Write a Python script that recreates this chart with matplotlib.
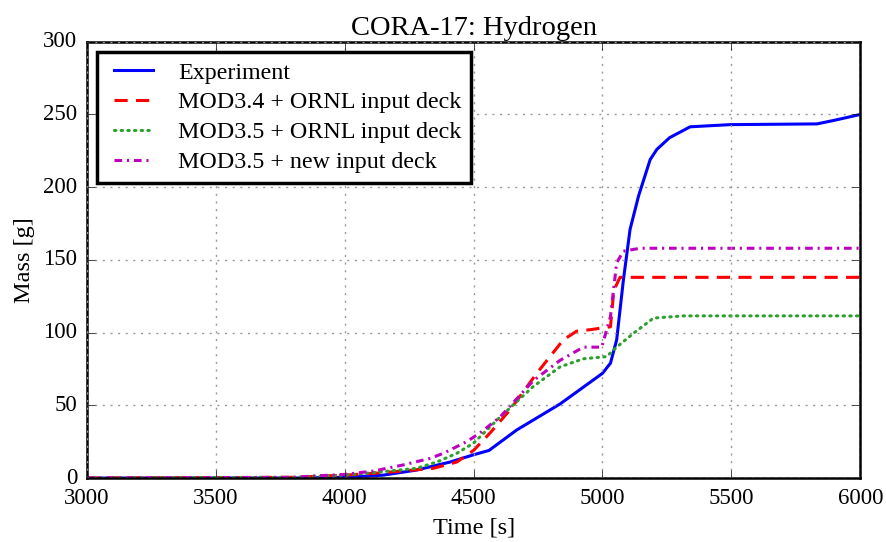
import matplotlib.pyplot as plt
import numpy as np

plt.style.use('classic')
plt.rcParams['font.family'] = ['Liberation Serif', 'DejaVu Serif']

# Experiment
t_exp = [3000, 3800, 4000, 4150, 4279, 4409, 4500, 4560, 4667, 4836, 5000, 5031,
         5055, 5081, 5107, 5140, 5185, 5211, 5260, 5340, 5495, 5832, 5900, 6000]
m_exp = [0, 0, 0.5, 2, 5.5, 11, 16, 19, 33, 51, 72, 79,
         95, 136, 171, 194, 219, 226, 234, 241.5, 243, 243.5, 246, 250]

# MOD3.4 + ORNL input deck
t_34 = [3000, 3800, 4000, 4150, 4344, 4435, 4500, 4564, 4642, 4745, 4848, 4900,
        4952, 5031, 5044, 5068, 6000]
m_34 = [0, 0.5, 2, 3.7, 6.7, 11, 19, 31, 47, 72, 95, 101,
        102, 104, 129, 138, 138]

# MOD3.5 + ORNL input deck
t_35 = [3000, 3800, 4000, 4150, 4279, 4357, 4435, 4500, 4603, 4732, 4836, 4926,
        5016, 5055, 5120, 5198, 5314, 6000]
m_35 = [0, 0.5, 2, 4.4, 6.7, 11, 17, 24, 42, 63, 76.5, 82,
        83.5, 90, 99.5, 110, 111.5, 111.5]

# MOD3.5 + new input deck
t_new = [3000, 3800, 3891, 4000, 4111, 4227, 4331, 4383, 4473, 4525, 4603, 4732,
         4836, 4926, 4997, 5031, 5055, 5081, 5146, 6000]
m_new = [0, 0.5, 1.5, 2.5, 4.8, 9, 13.5, 17, 25, 31, 42, 67,
         81, 90, 90, 111, 148, 156, 158, 158]

fig = plt.figure(figsize=(8.86, 5.42), dpi=100, facecolor='white')
ax = fig.add_axes([0.098, 0.118, 0.873, 0.805])

# classic style: dash lengths are in points, not scaled with linewidth
ax.plot(t_exp, m_exp, color='b', lw=2.2, label='Experiment')
ax.plot(t_34, m_34, color='r', lw=2.2, ls=(0, (9.5, 6)), label='MOD3.4 + ORNL input deck')
ax.plot(t_35, m_35, color='#2ca02c', lw=2.2, ls=(0, (1, 3.8)), dash_capstyle='round',
        label='MOD3.5 + ORNL input deck')
ax.plot(t_new, m_new, color='m', lw=2.2, ls=(0, (5.5, 3.5, 1.5, 3.5)),
        label='MOD3.5 + new input deck')

ax.set_xlim(3000, 6000)
ax.set_ylim(0, 300)
ax.set_xticks(np.arange(3000, 6001, 500))
ax.set_yticks(np.arange(0, 301, 50))
ax.tick_params(labelsize=16.5, direction='in', length=6, top=True, right=True, pad=7)
ax.grid(True, color='#999999', ls=(0, (1.5, 4)), lw=1)
for s in ax.spines.values():
    s.set_linewidth(1.8)

ax.set_xlabel('Time [s]', fontsize=17.5, labelpad=6)
ax.set_ylabel('Mass [g]', fontsize=17.5, labelpad=6)
ax.set_title('CORA-17: Hydrogen', fontsize=20.5, pad=5)

leg = ax.legend(loc='upper left', fontsize=17.3, handlelength=2.2, handletextpad=0.75,
                borderaxespad=0.42, borderpad=0.42, labelspacing=0.33,
                fancybox=False, framealpha=1)
leg.get_frame().set_linewidth(2.5)
leg.get_frame().set_edgecolor('black')

fig.savefig('out.png', dpi=100, facecolor='white')
